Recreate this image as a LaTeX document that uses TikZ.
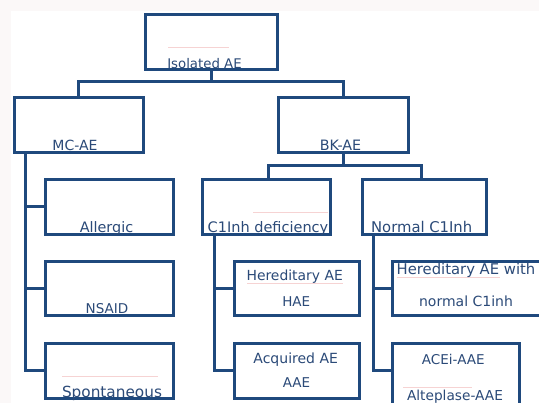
\documentclass[tikz,border=0pt]{standalone}
\usepackage{fontspec}
\setmainfont{DejaVu Sans}
\definecolor{navy}{HTML}{1F497D}
\definecolor{txt}{HTML}{2B4A78}
\definecolor{squig}{HTML}{F6D3D3}
\definecolor{margin}{HTML}{FBF8F8}
\begin{document}
\begin{tikzpicture}[x=1pt,y=-1pt,
  box/.style={draw=navy,line width=3pt,inner sep=0pt,outer sep=0pt,fill=white},
  conn/.style={draw=navy,line width=3pt},
  lbl/.style={text=txt,inner sep=0pt,anchor=base,font=\fontsize{#1}{16}\selectfont},
  lbl/.default=14,
  squigline/.style={draw=squig,line width=0.8pt}]
\useasboundingbox (0,0) rectangle (539,403);
\clip (0,0) rectangle (539,403);
\fill[margin] (0,0) rectangle (539,403);
\fill[white] (10.7,10.7) rectangle (539,403);
% boxes
\node[box,minimum width=132pt,minimum height=55pt] (iso) at (211,42) {};
\node[box,minimum width=129pt,minimum height=55pt] (mc) at (78.5,125) {};
\node[box,minimum width=129.5pt,minimum height=55pt] (bk) at (343.7,125) {};
\node[box,minimum width=128pt,minimum height=55pt] (all) at (109.5,207) {};
\node[box,minimum width=128pt,minimum height=54pt] (nsaid) at (109.5,288.5) {};
\node[box,minimum width=128pt,minimum height=55pt] (spont) at (109.5,371) {};
\node[box,minimum width=128pt,minimum height=55pt] (c1def) at (266.5,207) {};
\node[box,minimum width=124pt,minimum height=55pt] (norm) at (424.5,207) {};
\node[box,minimum width=125.5pt,minimum height=54pt] (hae) at (297.2,288.5) {};
\node[box,minimum width=125.5pt,minimum height=55pt] (aae) at (297.2,371) {};
\node[box,minimum width=153pt,minimum height=54pt] (hnc) at (468.5,288.5) {};
\node[box,minimum width=127pt,minimum height=64.5pt] (acei) at (455.5,375.75) {};
% connectors
\coordinate (j1) at (211,82);
\draw[conn] (iso.south) -- (j1);
\draw[conn] (mc.north) |- (j1) -| (bk.north);
\coordinate (j2L) at (268.3,166);
\coordinate (j2R) at (421.3,166);
\draw[conn] (bk.south) -- (bk.south |- j2L);
\draw[conn] (c1def.north -| j2L) -- (j2L) -- (j2R) -- (norm.north -| j2R);
\coordinate (sMC) at (25.5,0);
\coordinate (sC1) at (214.5,0);
\coordinate (sN) at (373.5,0);
\draw[conn] (mc.south -| sMC) |- (spont.west);
\draw[conn] (all.west) -- (all.west -| sMC);
\draw[conn] (nsaid.west) -- (nsaid.west -| sMC);
\draw[conn] (c1def.south -| sC1) |- (aae.west);
\draw[conn] (hae.west) -- (hae.west -| sC1);
\draw[conn] (norm.south -| sN) |- (acei.west |- aae.west);
\draw[conn] (hnc.west) -- (hnc.west -| sN);
% faint proofing marks
\coordinate (q1a) at (168,47); \coordinate (q1b) at (229,47);
\coordinate (q2a) at (62,376); \coordinate (q2b) at (158,376);
\coordinate (q3a) at (253,212); \coordinate (q3b) at (328,212);
\coordinate (q4a) at (403,387); \coordinate (q4b) at (472,387);
\coordinate (q5a) at (247,283.5); \coordinate (q5b) at (343,283.5);
\coordinate (q6a) at (397,277); \coordinate (q6b) at (500,277);
\draw[squigline] (q1a) -- (q1b);
\draw[squigline] (q2a) -- (q2b);
\draw[squigline] (q3a) -- (q3b);
\draw[squigline] (q4a) -- (q4b);
\draw[squigline] (q5a) -- (q5b);
\draw[squigline] (q6a) -- (q6b);
% labels
\node[lbl=13.3] (tiso) at (204.5,68.5) {Isolated AE};
\node[lbl=14] (tmc) at (75,150.7) {MC-AE};
\node[lbl=14.3] (tbk) at (340.5,150.7) {BK-AE};
\node[lbl=14.4] (tall) at (106.5,232.7) {Allergic};
\node[lbl=13.5] (tnsaid) at (107,314) {NSAID};
\node[lbl=15.3] (tspont) at (112,397.7) {Spontaneous};
\node[lbl=14.5] (tc1def) at (268,232.7) {C1Inh deficiency};
\node[lbl=14.8] (tnorm) at (421.7,232.7) {Normal C1Inh};
\node[lbl=13.9] (thae1) at (294.7,281) {Hereditary AE};
\node[lbl=13.5] (thae2) at (296.3,306.7) {HAE};
\node[lbl=14] (taae1) at (295.7,364) {Acquired AE};
\node[lbl=13.5] (taae2) at (296.5,388) {AAE};
\node[lbl=14.8] (thnc1) at (466,274.3) {Hereditary AE with};
\node[lbl=14] (thnc2) at (466,306.7) {normal C1inh};
\node[lbl=13.5] (tacei) at (453.3,365) {ACEi-AAE};
\node[lbl=13.7] (talt) at (455,400.5) {Alteplase-AAE};
\end{tikzpicture}
\end{document}
